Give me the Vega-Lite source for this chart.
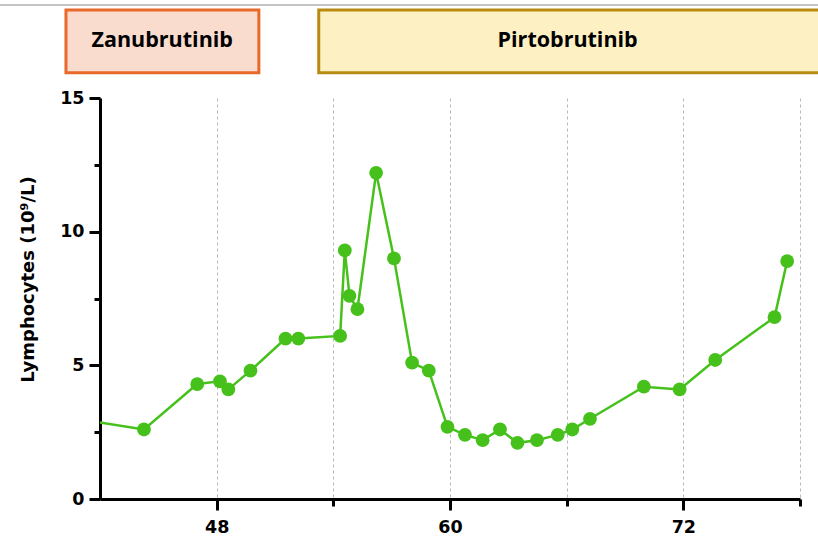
{
  "$schema": "https://vega.github.io/schema/vega-lite/v6.json",
  "width": 700,
  "height": 401,
  "autosize": {"type": "none"},
  "padding": {"left": 100, "top": 98, "right": 18, "bottom": 39},
  "background": "white",
  "config": {
    "view": {"stroke": null},
    "font": "DejaVu Sans"
  },
  "datasets": {
    "lymph": [
      {"month": 40.0, "count": 3.1},
      {"month": 44.26, "count": 2.6},
      {"month": 47.0, "count": 4.3},
      {"month": 48.17, "count": 4.4},
      {"month": 48.6, "count": 4.1},
      {"month": 49.74, "count": 4.8},
      {"month": 51.54, "count": 6.0},
      {"month": 52.2, "count": 6.0},
      {"month": 54.35, "count": 6.1},
      {"month": 54.59, "count": 9.3},
      {"month": 54.83, "count": 7.6},
      {"month": 55.24, "count": 7.1},
      {"month": 56.2, "count": 12.2},
      {"month": 57.12, "count": 9.0},
      {"month": 58.05, "count": 5.1},
      {"month": 58.91, "count": 4.8},
      {"month": 59.87, "count": 2.7},
      {"month": 60.77, "count": 2.4},
      {"month": 61.68, "count": 2.2},
      {"month": 62.57, "count": 2.6},
      {"month": 63.47, "count": 2.1},
      {"month": 64.47, "count": 2.2},
      {"month": 65.54, "count": 2.4},
      {"month": 66.29, "count": 2.6},
      {"month": 67.2, "count": 3.0},
      {"month": 69.97, "count": 4.2},
      {"month": 71.81, "count": 4.1},
      {"month": 73.64, "count": 5.2},
      {"month": 76.69, "count": 6.8},
      {"month": 77.34, "count": 8.9}
    ],
    "treatments": [
      {"drug": "Zanubrutinib", "start": 40.25, "end": 50.17, "mid": 45.2},
      {"drug": "Pirtobrutinib", "start": 53.25, "end": 79.6, "mid": 66.05}
    ],
    "frame": [
      {"from": 36.8, "to": 79.6}
    ]
  },
  "layer": [
    {
      "data": {"name": "lymph"},
      "mark": {"type": "line", "color": "#46c11b", "strokeWidth": 2.5, "clip": true},
      "encoding": {
        "x": {
          "field": "month",
          "type": "quantitative",
          "title": null,
          "scale": {"domain": [42, 78], "nice": false, "zero": false},
          "axis": {
            "values": [48, 54, 60, 66, 72, 78],
            "labelExpr": "datum.value % 12 === 0 ? datum.label : ''",
            "grid": true,
            "gridDash": [3, 3],
            "gridColor": "#b8b8b8",
            "gridWidth": 1,
            "domainColor": "black",
            "domainWidth": 3,
            "tickColor": "black",
            "tickWidth": 3,
            "tickSize": {"condition": {"test": "datum.value % 12 !== 0", "value": 7}, "value": 11},
            "labelFont": "DejaVu Sans",
            "labelFontSize": 17.5,
            "labelFontWeight": "bold",
            "labelColor": "black",
            "labelPadding": 8
          }
        },
        "y": {
          "field": "count",
          "type": "quantitative",
          "title": "Lymphocytes (10⁹/L)",
          "scale": {"domain": [0, 15], "nice": false},
          "axis": {
            "titleFont": "DejaVu Sans",
            "titleFontSize": 18,
            "titleFontWeight": "bold",
            "titleColor": "black",
            "titlePadding": 22,
            "titleY": 181,
            "values": [0, 2.5, 5, 7.5, 10, 12.5, 15],
            "labelExpr": "datum.value % 5 === 0 ? datum.label : ''",
            "grid": false,
            "domainColor": "black",
            "domainWidth": 3,
            "tickColor": "black",
            "tickWidth": 3,
            "tickSize": {"condition": {"test": "datum.value % 5 !== 0", "value": 6}, "value": 11},
            "labelFont": "DejaVu Sans",
            "labelFontSize": 17.5,
            "labelFontWeight": "bold",
            "labelColor": "black",
            "labelPadding": 5
          }
        }
      }
    },
    {
      "data": {"name": "lymph"},
      "mark": {"type": "point", "filled": true, "opacity": 1, "color": "#46c11b", "size": 190, "clip": true},
      "encoding": {
        "x": {"field": "month", "type": "quantitative", "title": null},
        "y": {"field": "count", "type": "quantitative", "title": "Lymphocytes (10⁹/L)"}
      }
    },
    {
      "data": {"name": "treatments"},
      "mark": {"type": "rect", "strokeWidth": 3, "clip": false},
      "encoding": {
        "x": {"field": "start", "type": "quantitative", "title": null},
        "x2": {"field": "end"},
        "y": {"datum": 15.94, "type": "quantitative", "title": "Lymphocytes (10⁹/L)"},
        "y2": {"datum": 18.29},
        "fill": {
          "field": "drug",
          "type": "nominal",
          "legend": null,
          "scale": {"domain": ["Zanubrutinib", "Pirtobrutinib"], "range": ["#fadcce", "#fdf0c3"]}
        },
        "stroke": {
          "field": "drug",
          "type": "nominal",
          "legend": null,
          "scale": {"domain": ["Zanubrutinib", "Pirtobrutinib"], "range": ["#e8692a", "#b98a12"]}
        }
      }
    },
    {
      "data": {"name": "treatments"},
      "mark": {"type": "text", "font": "Open Sans", "fontSize": 21.5, "fontWeight": "bold", "color": "black", "clip": false, "align": "center", "baseline": "middle"},
      "encoding": {
        "x": {"field": "mid", "type": "quantitative", "title": null},
        "y": {"datum": 17.13, "type": "quantitative", "title": "Lymphocytes (10⁹/L)"},
        "text": {"field": "drug"}
      }
    },
    {
      "data": {"name": "frame"},
      "mark": {"type": "rule", "color": "#b0b0b0", "strokeWidth": 1.5, "clip": false},
      "encoding": {
        "x": {"field": "from", "type": "quantitative", "title": null},
        "x2": {"field": "to"},
        "y": {"datum": 18.48, "type": "quantitative", "title": "Lymphocytes (10⁹/L)"}
      }
    }
  ]
}
